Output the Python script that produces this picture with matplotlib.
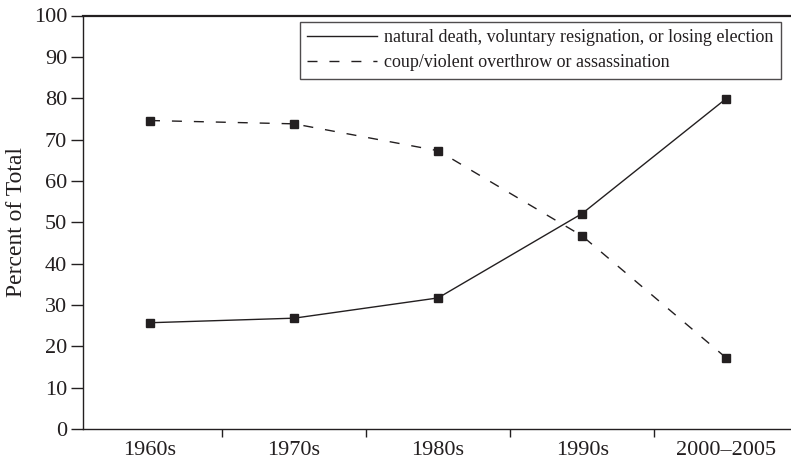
import numpy as np
import matplotlib.pyplot as plt

plt.rcParams['font.family'] = ['Liberation Serif', 'DejaVu Serif']

# данные
decades = ['1960s', '1970s', '1980s', '1990s', '2000\u20132005']
natural = [25.7, 26.8, 31.7, 52.1, 79.9]
violent = [74.6, 73.8, 67.3, 46.7, 17.2]
label_natural = 'natural death, voluntary resignation, or losing election'
label_violent = 'coup/violent overthrow or assassination'

ink = '#231f20'

fig = plt.figure(figsize=(7.91, 4.59), dpi=100)
ax = fig.add_axes([83 / 791, 1 - 429 / 459, 708 / 791, 413.5 / 459])

x = np.arange(len(decades))
ax.plot(x, natural, color=ink, lw=1.0, label=label_natural)
ax.plot(x, violent, color=ink, lw=1.0, dashes=(7.2, 8.6), label=label_violent)
ax.plot(x, natural, ls='none', marker='s', ms=6, color=ink)
ax.plot(x, violent, ls='none', marker='s', ms=6, color=ink)

ax.set_xlim(-0.465, 4.45)
ax.set_ylim(0, 100)

# границы категорий - основные деления, подписи - на дополнительных
ax.set_xticks(np.arange(len(decades) - 1) + 0.5)
ax.set_xticklabels([])
ax.set_xticks(x, minor=True)
ax.set_xticklabels(decades, minor=True, fontsize=16)
ax.tick_params(axis='x', which='major', direction='out', length=6, width=1, color=ink)
ax.tick_params(axis='x', which='minor', length=0, pad=8.5, labelcolor=ink)

ax.set_yticks(np.arange(0, 101, 10))
ax.tick_params(axis='y', direction='out', length=9, width=1, color=ink,
               labelsize=16, pad=2.5, labelcolor=ink)

ax.set_ylabel('Percent of Total', fontsize=17, color=ink, labelpad=5)

for side in ['left', 'bottom']:
    ax.spines[side].set_linewidth(1.0)
    ax.spines[side].set_color(ink)
ax.spines['top'].set_linewidth(1.6)
ax.spines['top'].set_color(ink)
ax.spines['right'].set_visible(False)

leg = ax.legend(loc='upper right', bbox_to_anchor=(0.986, 0.984), borderaxespad=0,
                fontsize=13, frameon=True, fancybox=False, handlelength=3.9,
                borderpad=0.4, labelspacing=0.45, handletextpad=0.4)
leg.get_frame().set_edgecolor(ink)
leg.get_frame().set_linewidth(1.0)
for t in leg.get_texts():
    t.set_color(ink)

plt.savefig('out.png', dpi=100)
